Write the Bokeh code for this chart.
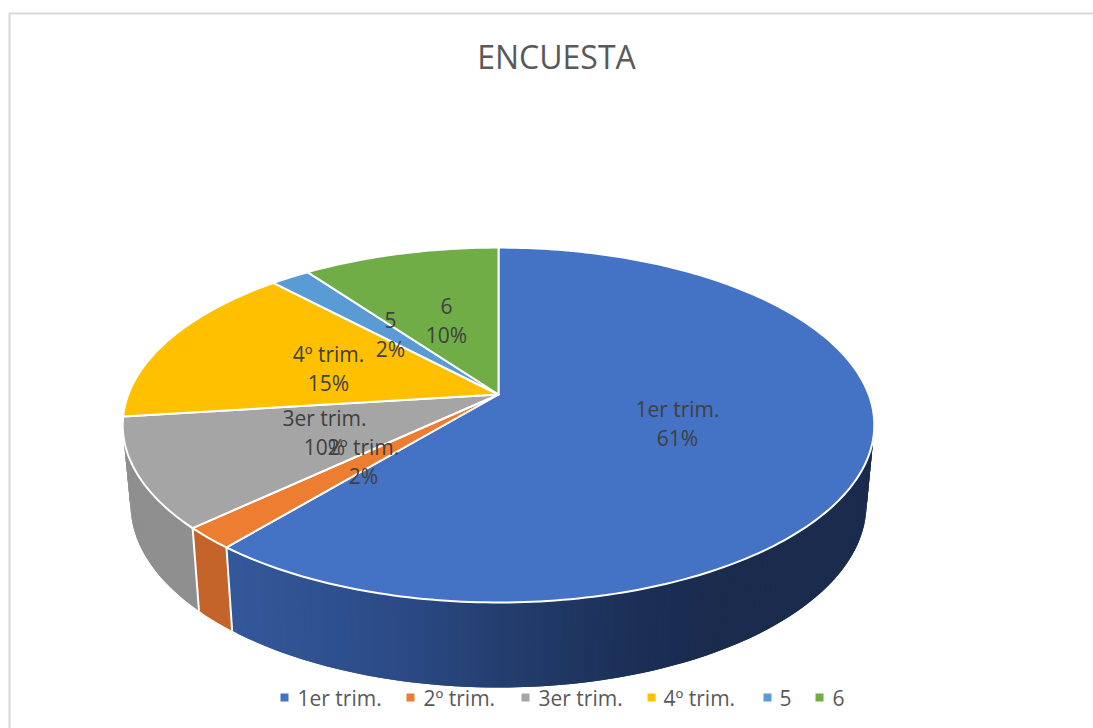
import numpy as np
from bokeh.plotting import figure
from bokeh.models import ColumnDataSource
from bokeh.core.properties import value
from bokeh.embed import file_html
from bokeh.resources import INLINE

# ---- data ----
title_text = "ENCUESTA"
categories = ["1er trim.", "2º trim.", "3er trim.", "4º trim.", "5", "6"]
shares = [61, 2, 10, 15, 2, 10]
colors = ["#4472C4", "#ED7D31", "#A5A5A5", "#FFC000", "#5B9BD5", "#70AD47"]

# ---- layout (picture pixels) ----
FONT = value("Open Sans")
CX = 498.0
K = 0.172                       # perspective of the tilted disc
TOP = dict(y0=394.0, a=172.2, b=370.2)
BOT = dict(y0=472.4, a=177.7, b=362.5)
label_anchor = [(677, 408), (363, 446), (324, 417), (328, 353), (390, 319), (446, 305)]
LINE_STEP = 29.5
legend_marker_x = [284, 410, 525, 651, 767, 819]
legend_text_x = [297, 423, 538, 663, 779, 832]
LEGEND_Y = 697


def ring(theta_deg, r):
    t = np.radians(theta_deg)
    w = 1 + K * np.cos(t)
    return CX + r["b"] * np.sin(t) / w, r["y0"] - r["a"] * np.cos(t) / w


p = figure(width=1093, height=728, x_range=(0, 1093), y_range=(728, 0),
           output_backend="svg", toolbar_location=None, min_border=0,
           x_axis_location=None, y_axis_location=None)
p.grid.visible = False
p.outline_line_color = None
p.background_fill_color = "white"

# frame
p.line(x=[9, 9, 1093], y=[728, 13, 13], line_color="#D9D9D9", line_width=2)

# cumulative boundaries, clockwise from 12 o'clock
bounds = np.concatenate([[0], np.cumsum(shares)]) / sum(shares) * 360.0


def side_color(i, xm):
    if i == 0:
        stops_x = [230, 400, 500, 650, 720]
        r = np.interp(xm, stops_x, [0x34, 0x2C, 0x24, 0x1B, 0x1A])
        g = np.interp(xm, stops_x, [0x59, 0x4B, 0x3F, 0x2E, 0x2B])
        b = np.interp(xm, stops_x, [0x9B, 0x87, 0x70, 0x54, 0x4E])
        return "#%02X%02X%02X" % (int(r), int(g), int(b))
    if i == 1:
        return "#C4642A"
    return "#8F8F8F"


# side wall: each strip overlaps the previous one so no seams show
xs, ys, cs = [], [], []
for i in range(3):
    lo, hi = bounds[i], bounds[i + 1]
    if i == 0:
        lo = max(lo, 70.0)
    if i == 2:
        hi = min(hi, 290.0)
    n = max(2, int(np.ceil(hi - lo)))
    edges = np.linspace(lo, hi, n + 1)
    step = edges[1] - edges[0]
    rev = edges[::-1][1:]   # paint from the far end so overlaps fall under
    for a0 in rev:
        a_lo = max(lo, a0 - 1.0 * step)
        ang = np.array([a_lo, a0 + step])
        tx, ty = ring(ang, TOP)
        bx, by = ring(ang, BOT)
        xs.append([tx[0], tx[1], bx[1], bx[0]])
        ys.append([ty[0], ty[1], by[1], by[0]])
        cs.append(side_color(i, (bx[0] + bx[1]) / 2))
p.patches(xs="xs", ys="ys", fill_color="c", line_color=None,
          source=ColumnDataSource(dict(xs=xs, ys=ys, c=cs)))

# white seams on the wall
for a in bounds[1:3]:
    tx, ty = ring(a, TOP)
    bx, by = ring(a, BOT)
    p.line(x=[tx, bx], y=[ty, by], line_color="white", line_width=2)

# top face
fx, fy = [], []
for i in range(len(shares)):
    ang = np.linspace(bounds[i], bounds[i + 1], max(3, int(bounds[i + 1] - bounds[i]) + 2))
    rx, ry = ring(ang, TOP)
    fx.append(np.concatenate([[CX], rx]).tolist())
    fy.append(np.concatenate([[TOP["y0"]], ry]).tolist())
p.patches(xs="xs", ys="ys", fill_color="c", line_color="white", line_width=2,
          line_join="round",
          source=ColumnDataSource(dict(xs=fx, ys=fy, c=colors)))

# data labels
for name, share, (lx, ly) in zip(categories, shares, label_anchor):
    for txt, yy in ((name, ly), (f"{share}%", ly + LINE_STEP)):
        p.text(x=[lx], y=[yy], text=[txt], text_font=FONT, text_font_size="21px",
               text_color="#404040", text_align="center", text_baseline="middle")

# title
p.text(x=[556], y=[56], text=[title_text], text_font=FONT, text_font_size="32px",
       text_color="#595959", text_align="center", text_baseline="middle")

# legend
p.scatter(x=legend_marker_x, y=[LEGEND_Y] * len(colors), marker="square", size=8,
          fill_color=colors, line_color=None)
p.text(x=legend_text_x, y=[LEGEND_Y] * len(colors), text=categories, text_font=FONT,
       text_font_size="21px", text_color="#595959", text_align="left",
       text_baseline="middle")

open("out.html", "w").write(file_html(p, INLINE))
